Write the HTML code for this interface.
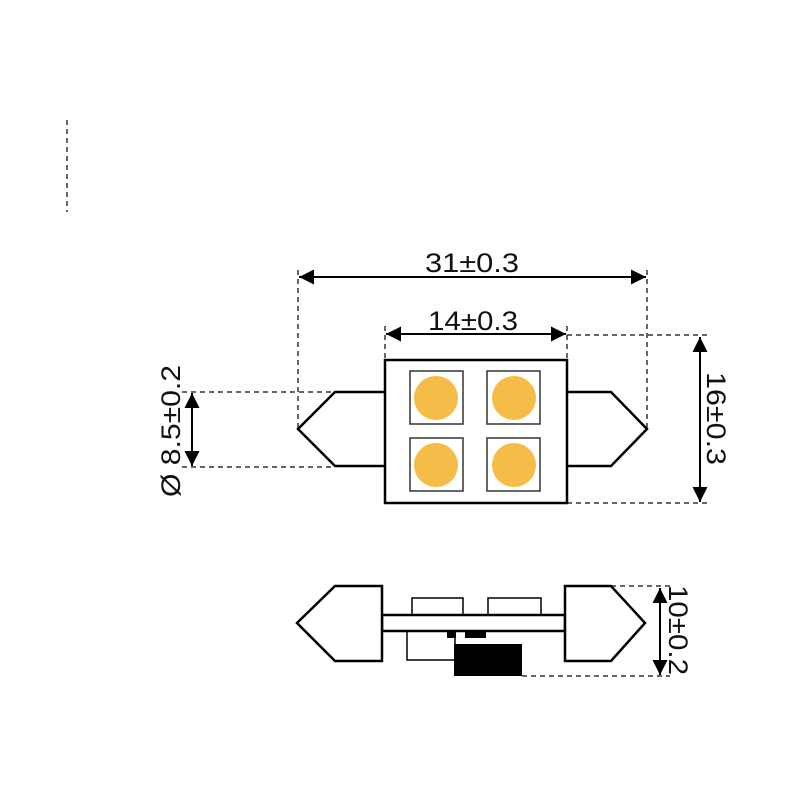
<!DOCTYPE html>
<html><head><meta charset="utf-8"><style>body{margin:0;background:#fff}</style></head><body>
<svg width="800" height="800" viewBox="0 0 800 800" xmlns="http://www.w3.org/2000/svg" font-family="Liberation Sans, sans-serif">
<defs>
<marker id="a" viewBox="0 0 10 10" refX="10" refY="5" markerWidth="20" markerHeight="15" markerUnits="userSpaceOnUse" orient="auto-start-reverse"><path d="M0,0L10,5L0,10z" fill="#000"/></marker>
</defs>
<rect width="800" height="800" fill="#fff"/>
<g stroke="#333" stroke-width="1.5" stroke-dasharray="5,4" fill="none">
<line x1="67" y1="120" x2="67" y2="212"/>
<line x1="298" y1="270" x2="298" y2="429"/>
<line x1="647" y1="270" x2="647" y2="429"/>
<line x1="385" y1="326" x2="385" y2="360"/>
<line x1="567" y1="326" x2="567" y2="360"/>
<line x1="567" y1="335" x2="710" y2="335"/>
<line x1="567" y1="503" x2="710" y2="503"/>
<line x1="182" y1="392" x2="335" y2="392"/>
<line x1="182" y1="467" x2="335" y2="467"/>
<line x1="611" y1="586" x2="670" y2="586"/>
<line x1="522" y1="676" x2="670" y2="676"/>
</g>
<g stroke="#000" stroke-width="2" fill="none">
<line x1="299" y1="277" x2="646" y2="277" marker-start="url(#a)" marker-end="url(#a)"/>
<line x1="386" y1="334" x2="566" y2="334" marker-start="url(#a)" marker-end="url(#a)"/>
<line x1="700" y1="337" x2="700" y2="502" marker-start="url(#a)" marker-end="url(#a)"/>
<line x1="192" y1="393" x2="192" y2="466" marker-start="url(#a)" marker-end="url(#a)"/>
<line x1="660" y1="588" x2="660" y2="675" marker-start="url(#a)" marker-end="url(#a)"/>
</g>
<g stroke="#000" stroke-width="2.5" fill="#fff">
<path d="M385,392H335L298,429L335,466H385"/>
<path d="M567,392H611L647,429L611,466H567"/>
<rect x="385" y="360" width="182" height="143"/>
</g>
<g stroke="#333" stroke-width="1.5" fill="#fff">
<rect x="410" y="371" width="53" height="53"/><rect x="487" y="371" width="53" height="53"/>
<rect x="410" y="438" width="53" height="53"/><rect x="487" y="438" width="53" height="53"/>
</g>
<g fill="#F5BD47">
<circle cx="436" cy="398" r="22"/><circle cx="514" cy="398" r="22"/>
<circle cx="436" cy="465" r="22"/><circle cx="514" cy="465" r="22"/>
</g>
<g stroke="#000" stroke-width="1.5" fill="#fff">
<rect x="412" y="598" width="51" height="17"/><rect x="488" y="598" width="53" height="17"/>
<rect x="407" y="631" width="48" height="29"/>
</g>
<g stroke="#000" stroke-width="2.5" fill="#fff">
<rect x="382" y="615" width="183" height="16"/>
<path d="M382,586H335L297,623L335,661H382Z"/>
<path d="M565,586H611L645,623L611,661H565Z"/>
</g>
<g fill="#000">
<rect x="447" y="631" width="9" height="7"/><rect x="465" y="631" width="21" height="7"/>
<rect x="454" y="644" width="68" height="32"/>
</g>
<g font-size="27" fill="#111">
<text x="425" y="272" textLength="94" lengthAdjust="spacingAndGlyphs">31±0.3</text>
<text x="428" y="330" textLength="90" lengthAdjust="spacingAndGlyphs">14±0.3</text>
<text transform="translate(707,372) rotate(90)" textLength="93" lengthAdjust="spacingAndGlyphs">16±0.3</text>
<text transform="translate(669,585) rotate(90)" textLength="90" lengthAdjust="spacingAndGlyphs">10±0.2</text>
<text transform="translate(180,497) rotate(-90)" textLength="132" lengthAdjust="spacingAndGlyphs">Ø 8.5±0.2</text>
</g>
</svg>
</body></html>
